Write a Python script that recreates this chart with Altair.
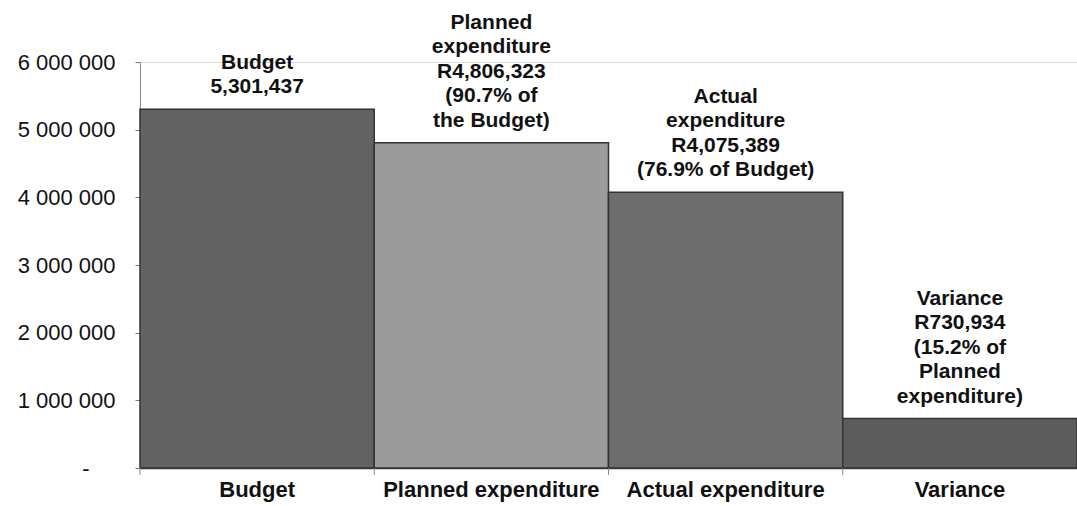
import altair as alt
import pandas as pd

categories = ["Budget", "Planned expenditure", "Actual expenditure", "Variance"]
values = [5301437, 4806323, 4075389, 730934]
bar_labels = [
    ["Budget", "5,301,437"],
    ["Planned", "expenditure", "R4,806,323", "(90.7% of", "the Budget)"],
    ["Actual", "expenditure", "R4,075,389", "(76.9% of Budget)"],
    ["Variance", "R730,934", "(15.2% of", "Planned", "expenditure)"],
]
bar_colors = ["#626262", "#9b9b9b", "#6d6d6d", "#5c5c5c"]
y_ticks = [0, 1000000, 2000000, 3000000, 4000000, 5000000, 6000000]

df = pd.DataFrame({"cat": categories, "value": values})

# one row per label line; k = line number counted from the bottom line
rows = []
for c, v, lines in zip(categories, values, bar_labels):
    n = len(lines)
    for i, t in enumerate(lines):
        rows.append({"cat": c, "value": v, "line": t, "k": n - 1 - i})
lines_df = pd.DataFrame(rows)

FONT = "Liberation Sans, Arial, sans-serif"
LINE_H = 24.5

x_enc = alt.X(
    "cat:N",
    sort=categories,
    scale=alt.Scale(paddingInner=0, paddingOuter=0),
    axis=alt.Axis(
        title=None,
        labelAngle=0,
        labelFont=FONT,
        labelFontSize=22,
        labelFontWeight="bold",
        labelColor="#111",
        labelPadding=11,
        labelLimit=400,
        ticks=False,
        domainColor="#444",
        domainWidth=1.5,
    ),
)
y_enc = alt.Y(
    "value:Q",
    scale=alt.Scale(domain=[0, 6000000], nice=False),
    axis=alt.Axis(
        title=None,
        values=y_ticks,
        grid=False,
        labelFont=FONT,
        labelFontSize=22,
        labelColor="#111",
        labelPadding={"condition": {"test": "datum.value == 0", "value": 46}, "value": 20},
        tickSize=5,
        tickColor="#777",
        domainColor="#888",
        labelExpr="datum.value == 0 ? '-' : replace(format(datum.value, ',d'), regexp(',', 'g'), ' ')",
    ),
)

bars = alt.Chart(df).mark_bar(stroke="#333", strokeWidth=1.5).encode(
    x=x_enc,
    y=y_enc,
    color=alt.Color(
        "cat:N",
        scale=alt.Scale(domain=categories, range=bar_colors),
        legend=None,
    ),
)

text_layers = []
for k in range(5):
    text_layers.append(
        alt.Chart(lines_df)
        .transform_filter(alt.datum.k == k)
        .mark_text(
            baseline="alphabetic",
            align="center",
            dy=-16 - LINE_H * k,
            font=FONT,
            fontSize=21,
            fontWeight="bold",
            color="#111",
        )
        .encode(
            x=alt.X("cat:N", sort=categories),
            y=alt.Y("value:Q"),
            text="line:N",
        )
    )

xticks = alt.Chart(df).mark_rule(color="#888", strokeWidth=1).encode(
    x=alt.X("cat:N", sort=categories, bandPosition=0),
    y=alt.value(406),
    y2=alt.value(413),
)

chart = (
    alt.layer(bars, *text_layers, xticks)
    .properties(
        width=937,
        height=406,
        autosize=alt.AutoSizeParams(type="none"),
        padding={"left": 140, "top": 62, "right": 0, "bottom": 38},
    )
    .configure_view(stroke=None)
    .configure(background="white")
)

chart.save("out.html", embed_options={"renderer": "svg", "actions": False})
